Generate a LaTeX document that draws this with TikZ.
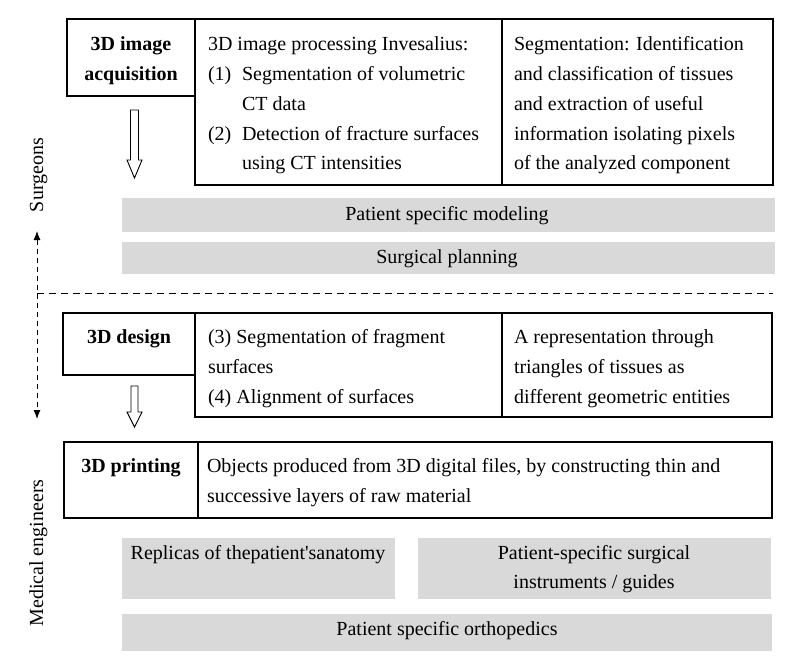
\documentclass[tikz,border=0pt]{standalone}
\usepackage{fontspec}
\setmainfont{Liberation Serif}
\usetikzlibrary{arrows.meta}
\definecolor{barGray}{HTML}{D9D9D9}
\newcommand{\mfs}{\fontsize{20}{24}\selectfont}
\begin{document}
\begin{tikzpicture}[x=1pt,y=-1pt,
  cell/.style={draw=black, line width=1.3pt, inner sep=0pt, outer sep=0pt, anchor=north west},
  bar/.style={fill=barGray, inner sep=0pt, outer sep=0pt, anchor=north west},
  tl/.style={inner sep=0pt, outer sep=0pt, anchor=base west, font=\mfs},
  tc/.style={inner sep=0pt, outer sep=0pt, anchor=base, font=\mfs},
  tb/.style={inner sep=0pt, outer sep=0pt, anchor=base, font=\mfs\bfseries},
  side/.style={inner sep=0pt, outer sep=0pt, anchor=base, rotate=90, font=\mfs},
  hollow/.style={draw=black, line width=0.9pt, fill=white, line join=miter},
  sep/.style={dash pattern=on 7pt off 5pt, line width=1pt},
  vsep/.style={dash pattern=on 5pt off 4pt, line width=1pt, {Latex[length=9pt,width=7pt]}-{Latex[length=9pt,width=7pt]}}
]
\useasboundingbox (0,0) rectangle (792,664);

% ---------- top table
\node[cell, minimum width=128pt, minimum height=77pt] (acqL) at (67,19) {};
\node[cell, minimum width=307pt, minimum height=166pt] (acqM) at (195,19) {};
\node[cell, minimum width=271pt, minimum height=166pt] (acqR) at (502,19) {};
\node[tb] (a1) at (131,50) {3D image};
\node[tb] (a2) at (131,80) {acquisition};
\node[tl] (m1) at (208,50) {3D image processing Invesalius:};
\node[tl] (m2n) at (208,80) {(1)};
\node[tl] (m2) at (242,80) {Segmentation of volumetric};
\node[tl] (m3) at (242,110) {CT data};
\node[tl] (m4n) at (208,140) {(2)};
\node[tl] (m4) at (242,140) {Detection of fracture surfaces};
\node[tl] (m5) at (242,169) {using CT intensities};
\node[tl] (r1) at (514,50) {Segmentation: Identification};
\node[tl] (r2) at (514,80) {and classification of tissues};
\node[tl] (r3) at (514,110) {and extraction of useful};
\node[tl] (r4) at (514,140) {information isolating pixels};
\node[tl] (r5) at (514,169) {of the analyzed component};

% hollow arrow 1
\coordinate (ha1) at (134.5,110);
\draw[hollow] (ha1) ++(-4,0) -- ++(0,50) -- ++(-3.5,0) -- ++(7.5,18) -- ++(7.5,-18) -- ++(-3.5,0) -- ++(0,-50) -- cycle;

% bars
\node[bar, minimum width=653pt, minimum height=34pt] (bar1) at (122,198) {};
\node[tc] (bar1t) at (447,220) {Patient specific modeling};
\node[bar, minimum width=653pt, minimum height=32pt] (bar2) at (122,242) {};
\node[tc] (bar2t) at (447,263) {Surgical planning};

% side labels and dashed lines
\node[side] (surg) at (43,175) {Surgeons};
\node[side] (meng) at (43,553) {Medical engineers};
\coordinate (dT) at (37,231);
\coordinate (dB) at (37,419);
\coordinate (hL) at (37,293);
\coordinate (hR) at (773,293);
\draw[vsep] (dT) -- (dB);
\draw[sep] (hL) -- (hR);

% ---------- design table
\node[cell, minimum width=132pt, minimum height=62pt] (desL) at (63,313) {};
\node[cell, minimum width=307pt, minimum height=104pt] (desM) at (195,313) {};
\node[cell, minimum width=270pt, minimum height=104pt] (desR) at (502,313) {};
\node[tb] (d0) at (129,343) {3D design};
\node[tl] (dm1) at (208,343) {(3) Segmentation of fragment};
\node[tl] (dm2) at (208,373) {surfaces};
\node[tl] (dm3) at (208,403) {(4) Alignment of surfaces};
\node[tl] (dr1) at (514,343) {A representation through};
\node[tl] (dr2) at (514,373) {triangles of tissues as};
\node[tl] (dr3) at (514,403) {different geometric entities};

% hollow arrow 2
\coordinate (ha2) at (134.5,386);
\draw[hollow] (ha2) ++(-3.5,0) -- ++(0,26) -- ++(-4,0) -- ++(7.5,15) -- ++(7.5,-15) -- ++(-4,0) -- ++(0,-26) -- cycle;

% ---------- printing table
\node[cell, minimum width=134pt, minimum height=76pt] (prL) at (64,442) {};
\node[cell, minimum width=574pt, minimum height=76pt] (prR) at (198,442) {};
\node[tb] (p0) at (131,472) {3D printing};
\node[tl] (p1) at (207,472) {Objects produced from 3D digital files, by constructing thin and};
\node[tl] (p2) at (207,502) {successive layers of raw material};

% ---------- outputs
\node[bar, minimum width=273pt, minimum height=61pt] (g1) at (122,538) {};
\node[tc] (g1t) at (258,559) {Replicas of thepatient\textquotesingle sanatomy};
\node[bar, minimum width=353pt, minimum height=61pt] (g2) at (418,538) {};
\node[tc] (g2a) at (594,559) {Patient-specific surgical};
\node[tc] (g2b) at (594,588) {instruments / guides};
\node[bar, minimum width=650pt, minimum height=37pt] (bar3) at (122,614) {};
\node[tc] (bar3t) at (447,635) {Patient specific orthopedics};
\end{tikzpicture}
\end{document}
